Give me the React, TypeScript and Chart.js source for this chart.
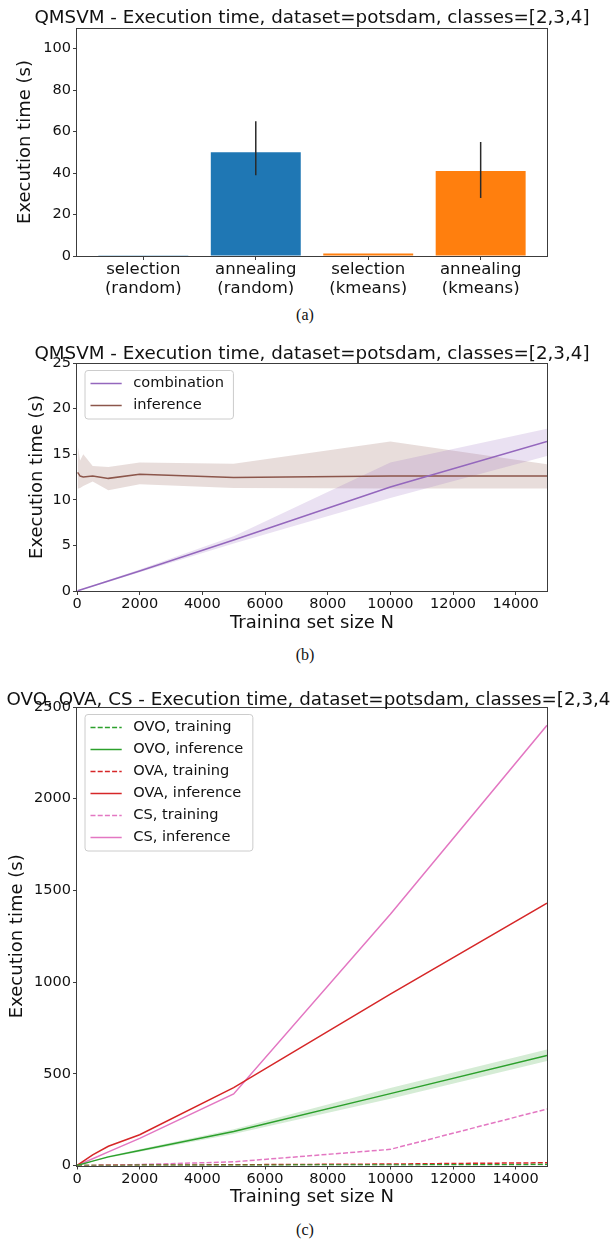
import React, { useEffect, useRef } from "react";
import { Chart, registerables } from "chart.js";

Chart.register(...registerables);

const FONT = "'DejaVu Sans', sans-serif";
const TEXT = "#111111";
const SPINE = "#3c3c3c";

// ---------- (a) bar chart ----------
const barTitle = "QMSVM - Execution time, dataset=potsdam, classes=[2,3,4]";
const barCategories = ["selection (random)", "annealing (random)", "selection (kmeans)", "annealing (kmeans)"];
const barValues = [0.1, 50, 1.2, 41];
const barErrLow: (number | null)[] = [null, 39, null, 28];
const barErrHigh: (number | null)[] = [null, 65, null, 55];
const barColors = ["#1f77b4", "#1f77b4", "#ff7f0e", "#ff7f0e"];
const barYTicks = [0, 20, 40, 60, 80, 100];

// ---------- (b) QMSVM lines ----------
const qTitle = "QMSVM - Execution time, dataset=potsdam, classes=[2,3,4]";
const trainTicks = [0, 2000, 4000, 6000, 8000, 10000, 12000, 14000];
const qYTicks = [0, 5, 10, 15, 20, 25];
const combX = [20, 500, 1000, 2000, 5000, 10000, 15000];
const combMean = [0.02, 0.55, 1.1, 2.2, 5.6, 11.4, 16.4];
const combLow = [0.0, 0.5, 1.0, 2.05, 5.2, 10.2, 14.8];
const combHigh = [0.05, 0.6, 1.2, 2.35, 6.0, 14.1, 17.8];
const infX = [20, 100, 200, 500, 1000, 2000, 5000, 10000, 15000];
const infMean = [13.0, 12.6, 12.5, 12.6, 12.35, 12.8, 12.45, 12.6, 12.6];
const infLow = [11.2, 11.3, 11.5, 12.0, 11.05, 11.7, 11.3, 11.25, 11.25];
const infHigh = [16.0, 14.3, 15.0, 13.7, 13.6, 14.1, 13.95, 16.4, 13.9];

// ---------- (c) OVO / OVA / CS ----------
const mcTitle = "OVO, OVA, CS - Execution time, dataset=potsdam, classes=[2,3,4]";
const mcYTicks = [0, 500, 1000, 1500, 2000, 2500];
const mcX = [0, 500, 1000, 2000, 5000, 10000, 15000];
const ovoTrain = [0, 0.2, 0.4, 0.8, 1.5, 3, 5];
const ovoInf = [0, 24, 47, 82, 185, 392, 600];
const ovoInfLow = [0, 22, 42, 75, 172, 364, 570];
const ovoInfHigh = [0, 26, 52, 89, 198, 422, 632];
const ovaTrain = [0, 0.5, 1, 2, 4, 8, 15];
const ovaInf = [0, 58, 105, 168, 425, 935, 1430];
const csTrain = [0, 0.5, 1, 5, 20, 88, 308];
const csInf = [0, 37, 74, 148, 390, 1370, 2400];

const pts = (xs: number[], ys: number[]) => xs.map((x, i) => ({ x, y: ys[i] }));

const tickFont = { family: FONT, size: 14.5 };
const labelFont = { family: FONT, size: 18 };

function framePlugin() {
  return {
    id: "mplFrame",
    afterDatasetsDraw(chart: any) {
      const { ctx, chartArea: a } = chart;
      ctx.save();
      ctx.strokeStyle = SPINE;
      ctx.lineWidth = 1;
      const l = Math.round(a.left) - 0.5, t = Math.round(a.top) + 0.5;
      const r = Math.round(a.right) + 0.5, b = Math.round(a.bottom) + 0.5;
      ctx.strokeRect(l, t, r - l, b - t);
      ctx.restore();
    },
  };
}

function titlePlugin(text: string, baseline: number) {
  return {
    id: "mplTitle",
    afterDraw(chart: any) {
      const { ctx, chartArea: a } = chart;
      ctx.save();
      ctx.font = `18.3px ${FONT}`;
      ctx.fillStyle = TEXT;
      ctx.textAlign = "center";
      ctx.textBaseline = "alphabetic";
      ctx.fillText(text, (a.left + a.right) / 2, baseline);
      ctx.restore();
    },
  };
}

function legendPlugin() {
  return {
    id: "mplLegend",
    afterDraw(chart: any) {
      const { ctx, chartArea: a } = chart;
      const items = chart.data.datasets.filter((d: any) => d.inLegend);
      ctx.save();
      ctx.font = `14.6px ${FONT}`;
      const maxW = Math.max(...items.map((d: any) => ctx.measureText(d.label).width));
      const x0 = a.left + 8, y0 = a.top + 7.5;
      const w = 48.3 + maxW + 9.5, h = 22 * items.length + 4.5;
      ctx.beginPath();
      (ctx as any).roundRect(x0, y0, w, h, 3);
      ctx.fillStyle = "rgba(255,255,255,0.8)";
      ctx.fill();
      ctx.strokeStyle = "#cccccc";
      ctx.lineWidth = 1;
      ctx.stroke();
      items.forEach((d: any, i: number) => {
        const y = y0 + 13 + 22 * i;
        ctx.beginPath();
        ctx.setLineDash(d.borderDash || []);
        ctx.strokeStyle = d.borderColor;
        ctx.lineWidth = d.borderWidth;
        ctx.moveTo(x0 + 5.5, y);
        ctx.lineTo(x0 + 36.7, y);
        ctx.stroke();
        ctx.setLineDash([]);
        ctx.fillStyle = TEXT;
        ctx.textAlign = "left";
        ctx.textBaseline = "middle";
        ctx.fillText(d.label, x0 + 48.3, y);
      });
      ctx.restore();
    },
  };
}

function errorBarPlugin() {
  return {
    id: "mplErr",
    afterDatasetsDraw(chart: any) {
      const { ctx } = chart;
      const xs = chart.scales.x, ys = chart.scales.y;
      ctx.save();
      ctx.strokeStyle = "#2a2a2a";
      ctx.lineWidth = 1.5;
      barValues.forEach((_, i) => {
        const lo = barErrLow[i], hi = barErrHigh[i];
        if (lo == null || hi == null) return;
        const x = xs.getPixelForValue(i);
        ctx.beginPath();
        ctx.moveTo(x, ys.getPixelForValue(lo));
        ctx.lineTo(x, ys.getPixelForValue(hi));
        ctx.stroke();
      });
      ctx.restore();
    },
  };
}

function axisCommon() {
  return {
    grid: { display: true, drawOnChartArea: false, drawTicks: true, tickLength: 4, color: SPINE, lineWidth: 1 },
    border: { display: false },
  };
}

function yScale(min: number, max: number, ticks: number[], titlePad: number) {
  return {
    type: "linear",
    min,
    max,
    ...axisCommon(),
    afterFit: (s: any) => { s.width = 77; },
    afterBuildTicks: (s: any) => { s.ticks = ticks.map((v) => ({ value: v })); },
    ticks: { font: tickFont, color: TEXT, padding: 2, autoSkip: false, callback: (v: any) => String(v) },
    title: { display: true, text: "Execution time (s)", font: labelFont, color: TEXT, padding: { top: titlePad, bottom: 0 } },
  };
}

function xLinear(height: number, titlePad: number) {
  return {
    type: "linear",
    min: 0,
    max: 15000,
    ...axisCommon(),
    afterFit: (s: any) => { s.height = height; },
    afterBuildTicks: (s: any) => { s.ticks = trainTicks.map((v) => ({ value: v })); },
    ticks: { font: tickFont, color: TEXT, padding: 1, autoSkip: false, maxRotation: 0, callback: (v: any) => String(v) },
    title: { display: true, text: "Training set size N", font: labelFont, color: TEXT, padding: { top: 0, bottom: titlePad } },
  };
}

function lineDs(label: string, xs: number[], ys: number[], color: string, dash?: number[]) {
  return {
    label, inLegend: true, data: pts(xs, ys), borderColor: color, backgroundColor: color,
    borderWidth: 1.5, borderDash: dash || [], pointRadius: 0, fill: false, tension: 0,
  };
}

function bandDs(xs: number[], lo: number[], hi: number[], rgba: string) {
  return [
    { label: "_band", data: pts(xs, hi), borderColor: "rgba(0,0,0,0)", backgroundColor: rgba, borderWidth: 0.01, pointRadius: 0, fill: "+1", tension: 0 },
    { label: "_bandlo", data: pts(xs, lo), borderColor: "rgba(0,0,0,0)", backgroundColor: rgba, borderWidth: 0.01, pointRadius: 0, fill: false, tension: 0 },
  ];
}

const baseOpts = { responsive: false, animation: false, devicePixelRatio: 1, events: [] as any[] };

function configA() {
  return {
    type: "bar",
    data: {
      datasets: [{
        label: "time",
        data: barValues.map((v, i) => ({ x: i, y: v })),
        backgroundColor: barColors,
        borderWidth: 0,
        categoryPercentage: 0.8,
        barPercentage: 1,
      }],
    },
    options: {
      ...baseOpts,
      layout: { padding: { top: 28, right: 63, bottom: 0, left: 0 } },
      plugins: { legend: { display: false }, tooltip: { enabled: false } },
      scales: {
        x: {
          type: "linear", min: -0.59, max: 3.59, offset: false,
          ...axisCommon(),
          grid: { ...axisCommon().grid, offset: false },
          afterFit: (s: any) => { s.height = 54; },
          afterBuildTicks: (s: any) => { s.ticks = barCategories.map((_, i) => ({ value: i })); },
          ticks: {
            font: { family: FONT, size: 16.5, lineHeight: 1.115 }, color: TEXT, padding: 1, autoSkip: false, maxRotation: 0,
            callback: (v: any) => (barCategories[v] ? barCategories[v].split(" ") : ""),
          },
        },
        y: yScale(0, 110, barYTicks, 14.2),
      },
    },
    plugins: [errorBarPlugin(), framePlugin(), titlePlugin(barTitle, 23.3)],
  };
}

function configB() {
  return {
    type: "line",
    data: {
      datasets: [
        lineDs("combination", combX, combMean, "#9467bd"),
        lineDs("inference", infX, infMean, "#8c564b"),
        ...bandDs(combX, combLow, combHigh, "rgba(148,103,189,0.2)"),
        ...bandDs(infX, infLow, infHigh, "rgba(140,86,75,0.2)"),
      ],
    },
    options: {
      ...baseOpts,
      layout: { padding: { top: 33, right: 63, bottom: 0, left: 0 } },
      plugins: { legend: { display: false }, tooltip: { enabled: false } },
      scales: { x: xLinear(49, 6.2), y: yScale(0, 25, qYTicks, 26.2) },
    },
    plugins: [framePlugin(), titlePlugin(qTitle, 29.1), legendPlugin()],
  };
}

function configC() {
  return {
    type: "line",
    data: {
      datasets: [
        lineDs("OVO, training", mcX, ovoTrain, "#2ca02c", [5, 2.2]),
        lineDs("OVO, inference", mcX, ovoInf, "#2ca02c"),
        lineDs("OVA, training", mcX, ovaTrain, "#d62728", [5, 2.2]),
        lineDs("OVA, inference", mcX, ovaInf, "#d62728"),
        lineDs("CS, training", mcX, csTrain, "#e377c2", [5, 2.2]),
        lineDs("CS, inference", mcX, csInf, "#e377c2"),
        ...bandDs(mcX, ovoInfLow, ovoInfHigh, "rgba(44,160,44,0.2)"),
      ],
    },
    options: {
      ...baseOpts,
      layout: { padding: { top: 37, right: 63, bottom: 0, left: 0 } },
      plugins: { legend: { display: false }, tooltip: { enabled: false } },
      scales: { x: xLinear(44.5, 2.3), y: yScale(0, 2500, mcYTicks, 6.2) },
    },
    plugins: [framePlugin(), titlePlugin(mcTitle, 34.8), legendPlugin()],
  };
}

function ChartBox({ make, top, height, clip }: { make: () => any; top: number; height: number; clip: number }) {
  const ref = useRef<HTMLCanvasElement | null>(null);
  useEffect(() => {
    if (!ref.current) return;
    const chart = new Chart(ref.current, make());
    return () => chart.destroy();
  }, [make]);
  return (
    <div style={{ position: "absolute", left: 0, top, width: 610, height: clip, overflow: "hidden" }}>
      <canvas ref={ref} width={610} height={height} style={{ display: "block", width: 610, height }} />
    </div>
  );
}

function Caption({ text, top }: { text: string; top: number }) {
  return (
    <div style={{ position: "absolute", left: 0, top, width: 610, textAlign: "center", fontFamily: "'Liberation Serif', serif", fontSize: 16, lineHeight: "16px", color: "#111" }}>
      {text}
    </div>
  );
}

export default function App() {
  return (
    <div style={{ position: "absolute", left: 0, top: 0, width: 610, height: 1243, background: "#fff", overflow: "hidden" }}>
      <ChartBox make={configA} top={0} height={310} clip={295} />
      <Caption text="(a)" top={307} />
      <ChartBox make={configB} top={330} height={310} clip={298} />
      <Caption text="(b)" top={647} />
      <ChartBox make={configC} top={670} height={540} clip={540} />
      <Caption text="(c)" top={1222} />
    </div>
  );
}
